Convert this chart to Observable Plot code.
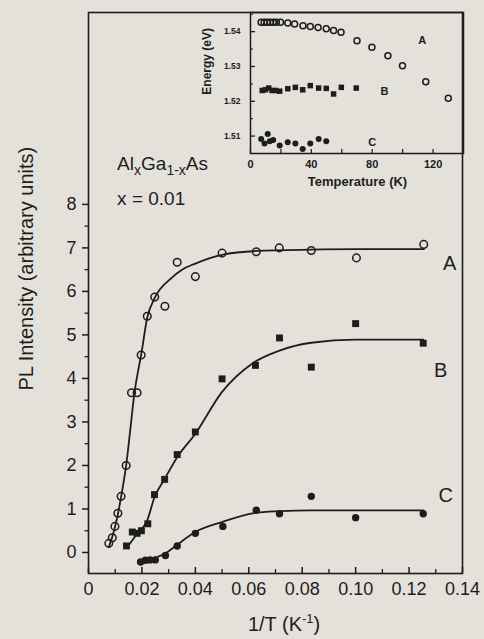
<!DOCTYPE html>
<html><head><meta charset="utf-8">
<script src="https://cdn.jsdelivr.net/npm/d3@7"></script>
<script src="https://cdn.jsdelivr.net/npm/@observablehq/plot@0.6"></script>
<style>
html,body{margin:0;padding:0;background:#e4e1da;}
#wrap{position:relative;width:484px;height:639px;overflow:hidden;background:#e4e1da;}
#inset{position:absolute;left:190px;top:0;}
</style></head><body><div id="wrap"></div>
<script>
// ---- main plot: PL intensity vs 1/T ----
const aX = [0.0076,0.0089,0.0099,0.011,0.0122,0.0141,0.0161,0.0182,0.0197,0.022,0.0248,0.0286,0.0332,0.040,0.050,0.0628,0.0714,0.0834,0.1003,0.1255];
const aY = [0.21,0.34,0.60,0.90,1.29,2.0,3.67,3.67,4.54,5.43,5.87,5.66,6.67,6.34,6.88,6.91,7.0,6.94,6.77,7.08];
const bX = [0.0142,0.0164,0.0182,0.0198,0.0222,0.0247,0.0285,0.0332,0.040,0.050,0.0625,0.0715,0.0834,0.100,0.1253];
const bY = [0.15,0.47,0.44,0.50,0.66,1.33,1.68,2.25,2.77,3.99,4.30,4.93,4.26,5.26,4.81];
const cX = [0.0195,0.0213,0.023,0.025,0.0288,0.0332,0.040,0.0503,0.0628,0.0715,0.0834,0.100,0.1253];
const cY = [-0.22,-0.18,-0.17,-0.17,-0.07,0.15,0.44,0.60,0.97,0.89,1.29,0.80,0.89];
// fitted curves
const fitAX = [0.0076,0.0099,0.011,0.0122,0.0141,0.0157,0.0172,0.0185,0.0197,0.022,0.0248,0.0307,0.035,0.040,0.050,0.063,0.083,0.100,0.1255];
const fitAY = [0.12,0.58,0.88,1.28,2.0,2.85,3.67,4.15,4.54,5.4,5.85,6.29,6.5,6.64,6.84,6.93,6.96,6.97,6.97];
const fitBX = [0.0145,0.0182,0.022,0.0247,0.0285,0.0332,0.040,0.050,0.0615,0.0715,0.0834,0.100,0.1253];
const fitBY = [0.12,0.43,0.74,1.27,1.69,2.19,2.73,3.69,4.35,4.64,4.82,4.89,4.89];
const fitCX = [0.0195,0.025,0.0288,0.0332,0.040,0.050,0.0625,0.0715,0.0834,0.100,0.1253];
const fitCY = [-0.21,-0.12,-0.02,0.18,0.47,0.70,0.91,0.95,0.97,0.97,0.97];
const curveNames = ["A","B","C"];
const curveLabelX = [0.1352,0.1318,0.1337];
const curveLabelY = [6.64,4.18,1.31];
const xMajor = [0,0.02,0.04,0.06,0.08,0.10,0.12,0.14];
const xMinor = [0.01,0.03,0.05,0.07,0.09,0.11,0.13];
const yMajor = [0,1,2,3,4,5,6,7,8];
const yMinor = [0.5,1.5,2.5,3.5,4.5,5.5,6.5,7.5];

// ---- inset: peak energy vs temperature ----
const iaT = [7,9,11,13,15,17,19.7,24.5,29,34.5,39.3,44.4,49.8,54.6,59.5,70,79.8,90.3,99.9,115.2,130];
const iaE = [1.5427,1.5427,1.5427,1.5427,1.5427,1.5427,1.5427,1.5425,1.5422,1.5417,1.5415,1.5412,1.5408,1.5403,1.5398,1.5374,1.5355,1.5331,1.5302,1.5256,1.5209];
const ibT = [7.7,9.8,12,14.2,16.4,19.2,24.5,29.5,34.3,39.3,44.8,49.8,54.6,59.7,69.5];
const ibE = [1.5231,1.5233,1.5238,1.5231,1.5231,1.5229,1.5236,1.5240,1.5233,1.5245,1.5238,1.5237,1.5221,1.5240,1.5238];
const icT = [7,9.2,11.3,12.7,14.9,19.2,24.5,29.5,34.3,39.3,44.8,49.8];
const icE = [1.5092,1.5079,1.5106,1.5085,1.5089,1.5073,1.5082,1.5079,1.5063,1.5079,1.5092,1.5085];
const insetLabelT = [112.9,88.1,80];
const insetLabelE = [1.5374,1.5228,1.5082];
const tMajor = [0,40,80,120];
const tMinor = [20,60,100];
const eMajor = [1.51,1.52,1.53,1.54];
const eMinor = [1.505,1.515,1.525,1.535,1.545];

const ink = "#1d1d1d";
const font = "'Liberation Sans', Arial, Helvetica, sans-serif";
const zip = (xs, ys) => xs.map((x, i) => ({x, y: ys[i]}));
const blank = () => "";

const main = Plot.plot({
  width: 484, height: 639,
  marginLeft: 88, marginRight: 22, marginTop: 12, marginBottom: 66,
  x: {domain: [0, 0.14]},
  y: {domain: [-0.483, 12.41]},
  style: {background: "transparent", color: ink, fontFamily: font},
  marks: [
    Plot.frame({stroke: ink, strokeWidth: 1.6}),
    Plot.axisY({ticks: yMajor, tickSize: 6, tickPadding: 6, tickFormat: d => String(d), fontSize: 18, label: null, strokeWidth: 1.5}),
    Plot.axisY({ticks: yMinor, tickSize: 3.5, tickFormat: blank, label: null, strokeWidth: 1.3}),
    Plot.axisX({ticks: xMajor, tickSize: 0, tickPadding: 9, tickFormat: d => d === 0 ? "0" : d.toFixed(2), fontSize: 18, label: null}),
    // inward ticks: shift the tick marks up by their length
    Plot.axisX({ticks: xMajor, tickSize: 6, dy: -6, tickFormat: blank, label: null, strokeWidth: 1.5}),
    Plot.axisX({ticks: xMinor, tickSize: 4, dy: -4, tickFormat: blank, label: null, strokeWidth: 1.3}),
    Plot.line(zip(fitAX, fitAY), {x: "x", y: "y", curve: "monotone-x", stroke: ink, strokeWidth: 1.8}),
    Plot.line(zip(fitBX, fitBY), {x: "x", y: "y", curve: "monotone-x", stroke: ink, strokeWidth: 1.8}),
    Plot.line(zip(fitCX, fitCY), {x: "x", y: "y", curve: "monotone-x", stroke: ink, strokeWidth: 1.8}),
    Plot.dot(zip(aX, aY), {x: "x", y: "y", r: 3.8, stroke: ink, strokeWidth: 1.5, fill: "none"}),
    Plot.dot(zip(bX, bY), {x: "x", y: "y", symbol: "square", r: 3.9, fill: ink, stroke: "none"}),
    Plot.dot(zip(cX, cY), {x: "x", y: "y", r: 3.7, fill: ink, stroke: "none"}),
    Plot.text(curveNames, {x: (d, i) => curveLabelX[i], y: (d, i) => curveLabelY[i], text: d => d, fontSize: 20, fill: ink}),
    Plot.text(["PL Intensity (arbitrary units)"], {text: d => d, frameAnchor: "left", y: 3.72, dx: -62, rotate: -90, fontSize: 20, fill: ink})
  ]
});

const wrap = document.getElementById("wrap");
wrap.appendChild(main);

// composite labels with sub/superscripts
const sx = main.scale("x"), sy = main.scale("y");
const svg = d3.select(main);
const t1 = svg.append("text").attr("x", sx.apply(0.0109)).attr("y", sy.apply(8.78)).attr("text-anchor", "start")
  .attr("font-size", 19).attr("fill", ink).attr("font-family", font);
t1.append("tspan").text("Al");
t1.append("tspan").attr("font-size", 14).attr("dy", 5).text("x");
t1.append("tspan").attr("dy", -5).text("Ga");
t1.append("tspan").attr("font-size", 14).attr("dy", 5).text("1-x");
t1.append("tspan").attr("dy", -5).text("As");
svg.append("text").attr("x", sx.apply(0.0109)).attr("y", sy.apply(7.98)).attr("text-anchor", "start")
  .attr("font-size", 19).attr("fill", ink).attr("font-family", font).text("x = 0.01");
const t2 = svg.append("text").attr("x", sx.apply(0.0734)).attr("y", 631).attr("text-anchor", "middle")
  .attr("font-size", 20).attr("fill", ink).attr("font-family", font);
t2.append("tspan").text("1/T (K");
t2.append("tspan").attr("font-size", 13).attr("dy", -8).text("-1");
t2.append("tspan").attr("dy", 8).text(")");

const inset = Plot.plot({
  width: 280, height: 200,
  marginLeft: 60, marginRight: 7, marginTop: 12, marginBottom: 47,
  x: {domain: [0, 140]},
  y: {domain: [1.505, 1.5455]},
  style: {background: "transparent", color: ink, fontFamily: font},
  marks: [
    Plot.frame({stroke: ink, strokeWidth: 1.5}),
    Plot.axisX({ticks: tMajor, tickSize: 0, tickPadding: 7, tickFormat: d => String(d), fontSize: 11, fontWeight: "bold", label: null}),
    Plot.axisX({ticks: tMajor.concat(tMinor), tickSize: 4, dy: -4, tickFormat: blank, label: null, strokeWidth: 1.2}),
    Plot.axisY({ticks: eMajor, tickSize: 0, tickPadding: 10, tickFormat: d => d.toFixed(2), fontSize: 8.5, fontWeight: "bold", label: null}),
    Plot.axisY({ticks: eMajor, tickSize: 5, dx: 5, tickFormat: blank, label: null, strokeWidth: 1.3}),
    Plot.axisY({ticks: eMinor, tickSize: 3, dx: 3, tickFormat: blank, label: null, strokeWidth: 1.1}),
    Plot.dot(zip(iaT, iaE), {x: "x", y: "y", r: 3, stroke: ink, strokeWidth: 1.5, fill: "none"}),
    Plot.dot(zip(ibT, ibE), {x: "x", y: "y", symbol: "square", r: 3.1, fill: ink, stroke: "none"}),
    Plot.dot(zip(icT, icE), {x: "x", y: "y", r: 3, fill: ink, stroke: "none"}),
    Plot.text(curveNames, {x: (d, i) => insetLabelT[i], y: (d, i) => insetLabelE[i], text: d => d, fontSize: 11, fontWeight: "bold", fill: ink}),
    Plot.text(["Temperature (K)"], {text: d => d, frameAnchor: "bottom", x: 70.3, dy: 32, fontSize: 13, fontWeight: "bold", fill: ink}),
    Plot.text(["Energy (eV)"], {text: d => d, frameAnchor: "left", y: 1.5219, dx: -43, rotate: -90, fontSize: 12, fontWeight: "bold", fill: ink})
  ]
});
inset.id = "inset";
wrap.appendChild(inset);
</script></body></html>
